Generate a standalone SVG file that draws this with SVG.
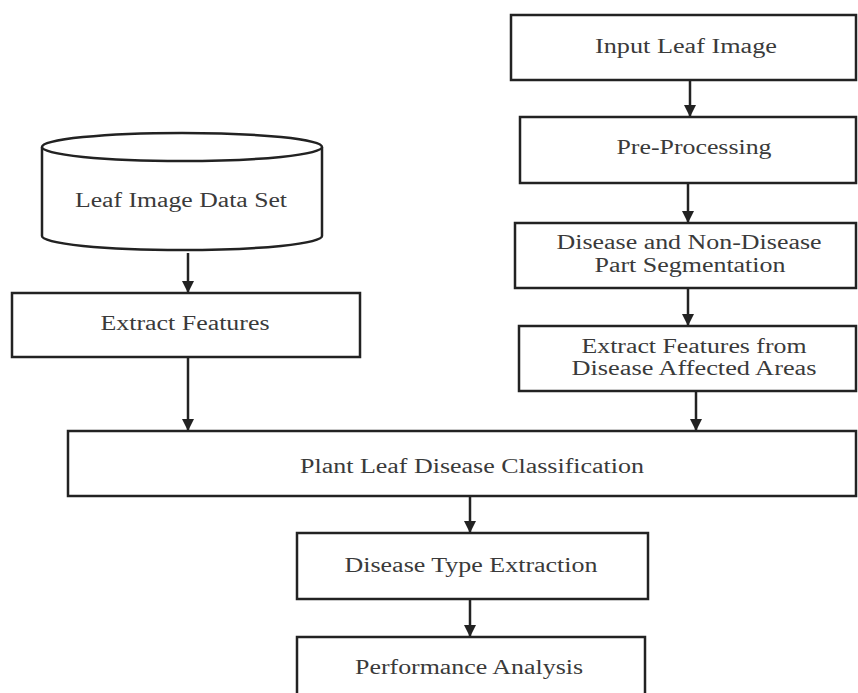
<svg xmlns="http://www.w3.org/2000/svg" width="858" height="693" viewBox="0 0 858 693">
<defs>
<marker id="ah" viewBox="0 0 10 10" refX="10" refY="5" markerWidth="5" markerHeight="5" orient="auto" markerUnits="strokeWidth">
<path d="M0,0 L10,5 L0,10 z" fill="#222"/>
</marker>
<style>
.box{fill:#fff;stroke:#222;stroke-width:2.5}
.t{font-family:"Liberation Serif","Times New Roman",serif;font-size:20px;fill:#3a3a3a;text-anchor:middle}
.c{stroke:#222;stroke-width:2.5;fill:none;marker-end:url(#ah)}
</style>
</defs>
<rect width="858" height="693" fill="#fff"/>
<g id="connectors">
<line class="c" x1="690" y1="80" x2="690" y2="117"/>
<line class="c" x1="688" y1="183" x2="688" y2="223"/>
<line class="c" x1="688" y1="288" x2="688" y2="326"/>
<line class="c" x1="696" y1="391" x2="696" y2="431"/>
<line class="c" x1="188" y1="253" x2="188" y2="293"/>
<line class="c" x1="188" y1="357" x2="188" y2="431"/>
<line class="c" x1="470" y1="496" x2="470" y2="533"/>
<line class="c" x1="470" y1="599" x2="470" y2="637"/>
</g>
<g id="input">
<rect class="box" x="511" y="15" width="345" height="65"/>
<text class="t" x="686" y="53" textLength="182" lengthAdjust="spacingAndGlyphs">Input Leaf Image</text>
</g>
<g id="preprocessing">
<rect class="box" x="520" y="117" width="336" height="66"/>
<text class="t" x="694" y="154" textLength="155" lengthAdjust="spacingAndGlyphs">Pre-Processing</text>
</g>
<g id="segmentation">
<rect class="box" x="515" y="223" width="341" height="65"/>
<text class="t" x="689" y="249" textLength="265" lengthAdjust="spacingAndGlyphs">Disease and Non-Disease</text>
<text class="t" x="690" y="272" textLength="191" lengthAdjust="spacingAndGlyphs">Part Segmentation</text>
</g>
<g id="extract-affected">
<rect class="box" x="519" y="326" width="337" height="65"/>
<text class="t" x="694" y="353" textLength="225" lengthAdjust="spacingAndGlyphs">Extract Features from</text>
<text class="t" x="694" y="375" textLength="245" lengthAdjust="spacingAndGlyphs">Disease Affected Areas</text>
</g>
<g id="dataset">
<path class="box" d="M42,147 L42,236 A140,14 0 0 0 322,236 L322,147"/>
<ellipse class="box" cx="182" cy="147" rx="140" ry="14"/>
<text class="t" x="181" y="207" textLength="212" lengthAdjust="spacingAndGlyphs">Leaf Image Data Set</text>
</g>
<g id="extract">
<rect class="box" x="12" y="293" width="348" height="64"/>
<text class="t" x="185" y="330" textLength="169" lengthAdjust="spacingAndGlyphs">Extract Features</text>
</g>
<g id="classification">
<rect class="box" x="68" y="431" width="788" height="65"/>
<text class="t" x="472" y="473" textLength="344" lengthAdjust="spacingAndGlyphs">Plant Leaf Disease Classification</text>
</g>
<g id="type">
<rect class="box" x="297" y="533" width="351" height="66"/>
<text class="t" x="471" y="572" textLength="253" lengthAdjust="spacingAndGlyphs">Disease Type Extraction</text>
</g>
<g id="performance">
<rect class="box" x="297" y="637" width="348" height="70"/>
<text class="t" x="469" y="674" textLength="228" lengthAdjust="spacingAndGlyphs">Performance Analysis</text>
</g>
</svg>
